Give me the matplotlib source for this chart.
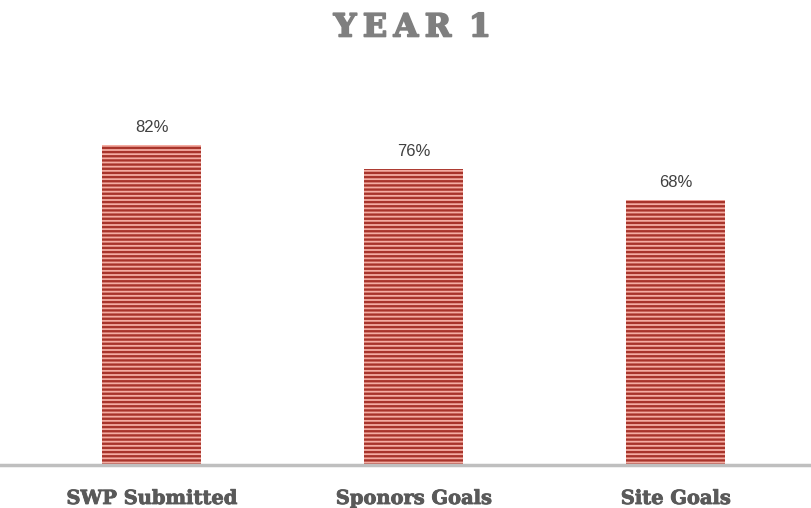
import matplotlib.pyplot as plt
import matplotlib.patheffects as pe

# --- data ---
categories = ['SWP Submitted', 'Sponors Goals', 'Site Goals']
values = [0.82, 0.76, 0.68]
labels = ['82%', '76%', '68%']

plt.rcParams['hatch.linewidth'] = 1.7

fig = plt.figure(figsize=(8.12, 5.08), dpi=100)
ax = fig.add_axes([0.0, 1 - 465 / 508, 1.0, 390 / 508])

x = range(len(categories))
bars = ax.bar(x, values, width=0.378, color='#f4aca2', edgecolor='#a8342b',
              linewidth=0, hatch='----')

for b, lab in zip(bars, labels):
    ax.text(b.get_x() + b.get_width() / 2, b.get_height() + 0.025, lab,
            ha='center', va='bottom', fontsize=12, color='#404040',
            family='Liberation Sans')

ax.set_xlim(-0.58, 2.52)
ax.set_ylim(0, 1.0)
ax.set_yticks([])
ax.set_xticks(list(x))
ax.set_xticklabels(categories, fontsize=14, fontweight='bold', color='#595959',
                   family='DejaVu Serif')
for t in ax.get_xticklabels():
    t.set_path_effects([pe.withStroke(linewidth=0.6, foreground='#595959')])
ax.tick_params(axis='x', length=0, pad=18)

for s in ['top', 'right', 'left']:
    ax.spines[s].set_visible(False)
ax.spines['bottom'].set_color('#bfbfbf')
ax.spines['bottom'].set_linewidth(2.5)

title = fig.text(0.508, 1 - 28 / 508, 'Y\u2009E\u2009A\u2009R\u2009 1',
                 ha='center', va='center', fontsize=23, fontweight='bold',
                 color='#7f7f7f', family='DejaVu Serif')
title.set_path_effects([pe.withStroke(linewidth=1.2, foreground='#7f7f7f')])

fig.savefig('out.png', dpi=100)
